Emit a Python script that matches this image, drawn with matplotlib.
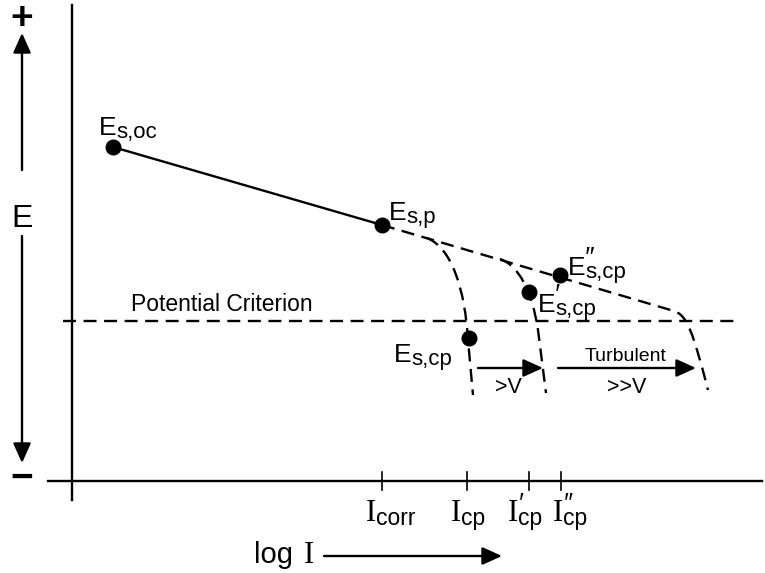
import matplotlib
matplotlib.use("Agg")
import matplotlib.pyplot as plt
from matplotlib.path import Path
from matplotlib.patches import PathPatch

plt.rcParams['font.family'] = ['Liberation Sans', 'DejaVu Sans']

# ---------------------------
# Schematic data (x = log I, y = E, picture units, E grows upward = smaller y)
# ---------------------------
# solid polarisation line E_s,oc -> E_s,p
solid_x = [113, 382]
solid_y = [147, 225]

# dashed upper branch (highest velocity) : straight part then bend
upper_x = [382, 674, 687, 693, 708]
upper_y = [225, 311, 315, 332, 390]

# dashed branch for I_cp (lowest velocity)
low_x = [427, 452, 465, 468, 473]
low_y = [238, 248, 290, 340, 395]

# dashed branch for I'_cp (>V)
mid_x = [500, 518, 532, 538, 546]
mid_y = [259, 265, 290, 330, 393]

# marked points
dot_x = [113, 382, 469, 529, 560]
dot_y = [147, 225, 338, 292, 275]

# E labels: (x, y, subscript, prime)
e_labels = [
    (99, 135, 's,oc', ''),
    (389, 220, 's,p', ''),
    (394, 362, 's,cp', ''),
    (538, 312, 's,cp', '\u2032'),
    (568, 275, 's,cp', '\u2033'),
]

# current ticks on the log I axis
tick_x = [382, 467, 529, 561]
i_labels = [
    (366, 521, 'corr', ''),
    (451, 521, 'cp', ''),
    (508, 521, 'cp', '\u2032'),
    (553, 521, 'cp', '\u2033'),
]

criterion_y = 321

fig = plt.figure(figsize=(7.65, 5.73), dpi=100)
ax = fig.add_axes([0, 0, 1, 1])
ax.set_xlim(0, 765)
ax.set_ylim(573, 0)
ax.axis('off')

K = 'black'
LW = 1.7
DASH = (5.5, 3.2)

# axes
ax.plot([72, 72], [5, 500], color=K, lw=LW)
ax.plot([48, 762], [481, 481], color=K, lw=LW)
for tx in tick_x:
    ax.plot([tx, tx], [472, 490], color=K, lw=1.2)

# potential criterion
ax.plot([63, 738], [criterion_y, criterion_y], color=K, lw=LW,
        linestyle=(0, DASH))
ax.text(222, 311, 'Potential Criterion', fontsize=16.5, ha='center',
        va='baseline')

# curves
ax.plot(solid_x, solid_y, color=K, lw=LW)


def dashed_path(xs, ys, codes):
    path = Path(list(zip(xs, ys)), codes)
    ax.add_patch(PathPatch(path, fill=False, edgecolor=K, lw=LW,
                           linestyle=(0, DASH)))


# upper: straight line, then a cubic bend down
dashed_path(upper_x, upper_y,
            [Path.MOVETO, Path.LINETO, Path.CURVE4, Path.CURVE4, Path.CURVE4])
# branches: cubic bend, then straight drop
branch_codes = [Path.MOVETO, Path.CURVE4, Path.CURVE4, Path.CURVE4,
                Path.LINETO]
dashed_path(low_x, low_y, branch_codes)
dashed_path(mid_x, mid_y, branch_codes)

ax.plot(dot_x, dot_y, 'o', color=K, ms=10.5, zorder=5)

# E labels (letter, subscript and prime set by hand)
for x, y, sub, pr in e_labels:
    ax.text(x, y, 'E', fontsize=19, va='baseline', ha='left')
    ax.text(x + 17.5, y + 3, sub, fontsize=16, va='baseline', ha='left')
    if pr:
        ax.text(x + 16, y - 10, pr, fontsize=19, va='baseline', ha='left',
                style='italic')

# I labels
for x, y, sub, pr in i_labels:
    ax.text(x, y, 'I', fontsize=22, family='Liberation Serif',
            va='baseline', ha='left')
    ax.text(x + 10, y + 4, sub, fontsize=16.5, va='baseline', ha='left')
    if pr:
        ax.text(x + 10, y - 10, pr, fontsize=18, va='baseline', ha='left',
                style='italic')

# velocity arrows
arrow = dict(arrowstyle='-|>,head_length=0.6,head_width=0.27', color=K,
             lw=LW, mutation_scale=20, shrinkA=0, shrinkB=0)
ax.annotate('', xy=(543, 368), xytext=(478, 368), arrowprops=arrow)
ax.annotate('', xy=(696, 368), xytext=(558, 368), arrowprops=arrow)
ax.text(508, 393, '>V', fontsize=15.5, ha='center', va='baseline')
ax.text(626, 361, 'Turbulent', fontsize=14, ha='center', va='baseline')
ax.text(627, 393, '>>V', fontsize=15.5, ha='center', va='baseline')

# E direction arrows
ax.annotate('', xy=(22, 33), xytext=(22, 170), arrowprops=arrow)
ax.annotate('', xy=(22, 463), xytext=(22, 236), arrowprops=arrow)
ax.text(22, 219, 'E', fontsize=23, ha='center', va='center')
ax.text(22, 19, '+', fontsize=28, fontweight='bold', ha='center',
        va='center')
ax.text(22, 479, '\u2212', fontsize=28, fontweight='bold', ha='center',
        va='center')

# log I arrow
ax.text(254, 563, 'log', fontsize=21, ha='left', va='baseline')
ax.text(304, 563, 'I', fontsize=22, family='Liberation Serif', ha='left',
        va='baseline')
ax.annotate('', xy=(502, 556), xytext=(324, 556), arrowprops=arrow)

fig.savefig('out.png', dpi=100)
